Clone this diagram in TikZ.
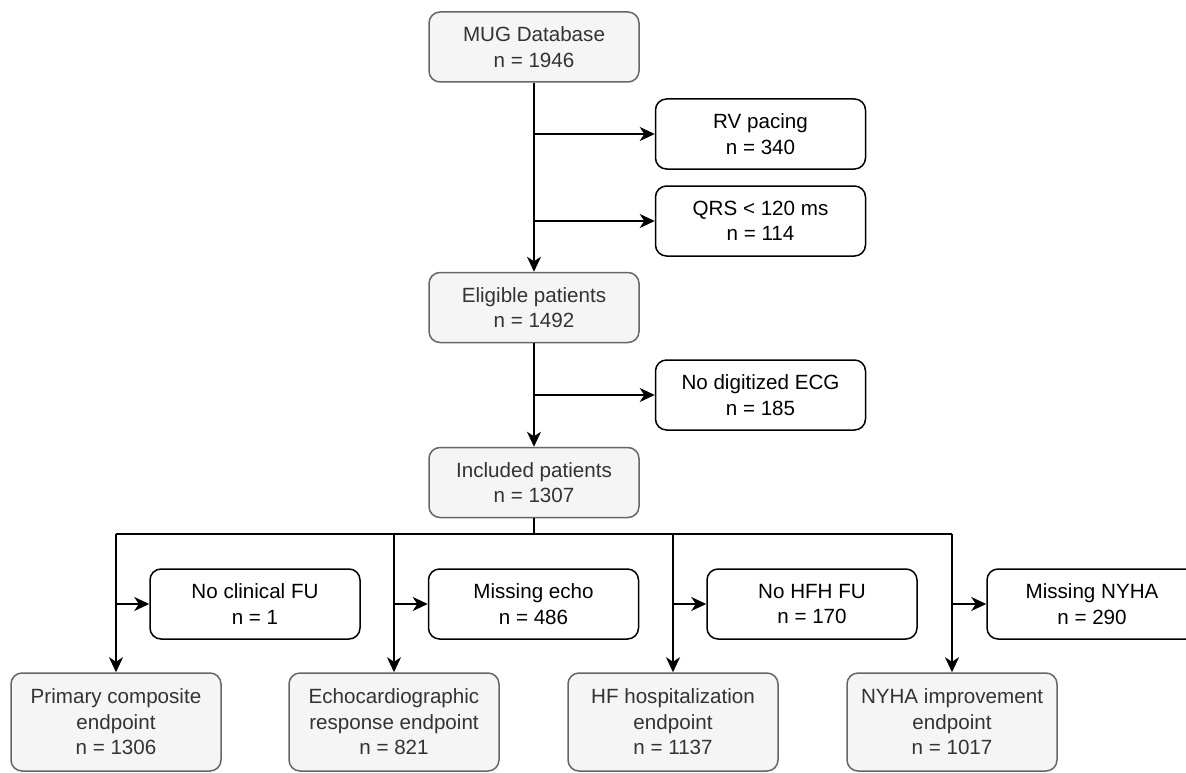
\documentclass[tikz,border=0pt]{standalone}
\usepackage{fontspec}
\setmainfont{Liberation Sans}
\usetikzlibrary{arrows.meta}
\definecolor{boxfill}{HTML}{F5F5F5}
\definecolor{boxline}{HTML}{666666}
\definecolor{boxtext}{HTML}{333333}
\tikzset{
  basebox/.style={rounded corners=11pt, line width=1.5pt, align=center, inner sep=0pt,
    font=\fontsize{20.6}{25.5}\selectfont, minimum width=210pt, minimum height=70pt},
  greybox/.style={basebox, fill=boxfill, draw=boxline, text=boxtext},
  whitebox/.style={basebox, fill=white, draw=black, text=black},
  endbox/.style={greybox, minimum height=98pt},
  conn/.style={line width=1.6pt, draw=black},
  arr/.style={conn, -{Stealth[length=15pt,width=14pt,inset=4.5pt]}}
}
\begin{document}
\begin{tikzpicture}[x=1pt,y=-1pt]
\useasboundingbox (0,0) rectangle (1186,773);
% main column
\node[greybox] (mug) at (534,47) {MUG Database\\n = 1946};
\node[greybox] (elig) at (534,307.5) {Eligible patients\\n = 1492};
\node[greybox] (incl) at (534,482.5) {Included patients\\n = 1307};
% exclusions top
\node[whitebox] (rv) at (760.5,134) {RV pacing\\n = 340};
\node[whitebox] (qrs) at (760.5,221) {QRS < 120 ms\\n = 114};
\node[whitebox] (noecg) at (760.5,395) {No digitized ECG\\n = 185};
% endpoint boxes
\node[endbox] (prim) at (116,722) {Primary composite\\endpoint\\n = 1306};
\node[endbox] (echo) at (394,722) {Echocardiographic\\response endpoint\\n = 821};
\node[endbox] (hf) at (673,722) {HF hospitalization\\endpoint\\n = 1137};
\node[endbox] (nyha) at (952,722) {NYHA improvement\\endpoint\\n = 1017};
% exclusions bottom
\node[whitebox] (noclin) at (255,604) {No clinical FU\\n = 1};
\node[whitebox] (misecho) at (533.5,604) {Missing echo\\n = 486};
\node[whitebox] (nohfh) at (812,604) {No HFH FU\\n = 170};
\node[whitebox] (misnyha) at (1092,604) {Missing NYHA\\n = 290};
\coordinate (bus) at (534,534);
% connectors
\draw[arr] (mug) -- (elig);
\draw[arr] (mug.south |- rv.west) -- (rv.west);
\draw[arr] (mug.south |- qrs.west) -- (qrs.west);
\draw[arr] (elig) -- (incl);
\draw[arr] (elig.south |- noecg.west) -- (noecg.west);
\draw[conn] (incl.south) -- (bus);
\draw[conn] (prim.north |- bus) -- (nyha.north |- bus);
\draw[arr] (prim.north |- bus) -- (prim.north);
\draw[arr] (echo.north |- bus) -- (echo.north);
\draw[arr] (hf.north |- bus) -- (hf.north);
\draw[arr] (nyha.north |- bus) -- (nyha.north);
\draw[arr] (prim.north |- noclin.west) -- (noclin.west);
\draw[arr] (echo.north |- misecho.west) -- (misecho.west);
\draw[arr] (hf.north |- nohfh.west) -- (nohfh.west);
\draw[arr] (nyha.north |- misnyha.west) -- (misnyha.west);
\end{tikzpicture}
\end{document}
